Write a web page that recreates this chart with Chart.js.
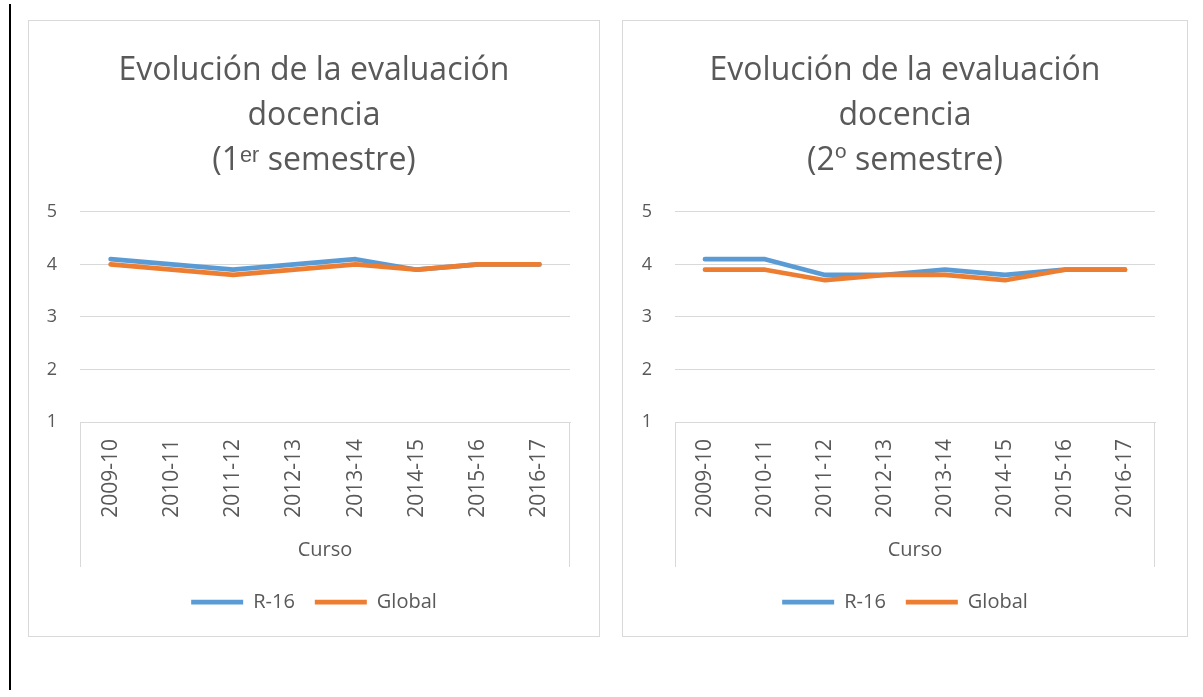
<!DOCTYPE html>
<html>
<head>
<meta charset="utf-8">
<script src="https://cdn.jsdelivr.net/npm/chart.js@4.4.1/dist/chart.umd.min.js"></script>
<style>
  html, body { margin: 0; padding: 0; background: #ffffff; }
  body { width: 1203px; height: 697px; position: relative; overflow: hidden; }
  .vline { position: absolute; left: 9px; top: 4px; width: 2px; height: 686px; background: #000; }
  .box { position: absolute; top: 20px; height: 617px; border: 1px solid #D9D9D9; box-sizing: border-box; }
  #box1 { left: 28px; width: 572px; }
  #box2 { left: 622px; width: 566px; }
  .box canvas { display: block; }
</style>
</head>
<body>
<div class="vline"></div>
<div class="box" id="box1"><canvas id="c1"></canvas></div>
<div class="box" id="box2"><canvas id="c2"></canvas></div>
<script>
// ---- data ----
const cursos = ['2009-10', '2010-11', '2011-12', '2012-13', '2013-14', '2014-15', '2015-16', '2016-17'];
const r16Sem1 = [4.1, 4.0, 3.9, 4.0, 4.1, 3.9, 4.0, 4.0];
const globalSem1 = [4.0, 3.9, 3.8, 3.9, 4.0, 3.9, 4.0, 4.0];
const r16Sem2 = [4.1, 4.1, 3.8, 3.8, 3.9, 3.8, 3.9, 3.9];
const globalSem2 = [3.9, 3.9, 3.7, 3.8, 3.8, 3.7, 3.9, 3.9];
const seriesNames = ['R-16', 'Global'];
const title1 = ['Evolución de la evaluación', 'docencia', '(1ᵉʳ semestre)'];
const title2 = ['Evolución de la evaluación', 'docencia', '(2º semestre)'];
const axisTitleX = 'Curso';
const yMin = 1, yMax = 5, yStep = 1;

const FONT = "'Open Sans', 'Liberation Sans', sans-serif";
const TEXT = '#595959';
const GRID = '#D9D9D9';
const BLUE = '#5B9BD5';
const ORANGE = '#ED7D31';
const SEP_LEN = 145; // length of the category block separators below the axis

// draws the multi-level category separators (left/right edges of the x axis block)
const separatorPlugin = {
  id: 'separators',
  afterDraw(chart) {
    const x = chart.scales.x;
    const ctx = chart.ctx;
    ctx.save();
    ctx.strokeStyle = GRID;
    ctx.lineWidth = 1;
    ctx.beginPath();
    const l = Math.round(x.left) + 0.5, r = Math.round(x.right) - 0.5;
    ctx.moveTo(l, x.top); ctx.lineTo(l, x.top + SEP_LEN);
    ctx.moveTo(r, x.top); ctx.lineTo(r, x.top + SEP_LEN);
    ctx.stroke();
    ctx.restore();
  }
};

function makeChart(id, w, h, r16, glob, titleLines, yWidth, rightPad) {
  const cv = document.getElementById(id);
  cv.width = w; cv.height = h;
  cv.style.width = w + 'px'; cv.style.height = h + 'px';
  return new Chart(cv, {
    type: 'line',
    data: {
      labels: cursos,
      datasets: [
        { label: seriesNames[0], data: r16, borderColor: BLUE, backgroundColor: BLUE, borderWidth: 4.75,
          borderCapStyle: 'round', borderJoinStyle: 'round', order: 1 },
        { label: seriesNames[1], data: glob, borderColor: ORANGE, backgroundColor: ORANGE, borderWidth: 4.75,
          borderCapStyle: 'round', borderJoinStyle: 'round', order: 0 }
      ]
    },
    options: {
      responsive: false,
      animation: false,
      devicePixelRatio: 1,
      elements: {
        line: { tension: 0, fill: false },
        point: { radius: 0, hoverRadius: 0 }
      },
      layout: { padding: { top: 0, left: 0, right: 0, bottom: 14 } },
      plugins: {
        title: {
          display: true,
          text: titleLines,
          color: TEXT,
          font: { family: FONT, size: 32, weight: 'normal', lineHeight: 1.406 },
          padding: { top: 27, bottom: 29 }
        },
        legend: {
          display: true,
          position: 'bottom',
          labels: {
            usePointStyle: true,
            pointStyle: 'line',
            pointStyleWidth: 52,
            color: TEXT,
            font: { family: FONT, size: 20 },
            padding: 20,
            sort: (a, b) => a.datasetIndex - b.datasetIndex
          }
        },
        tooltip: { enabled: false }
      },
      scales: {
        x: {
          offset: true,
          grid: { display: false, drawTicks: false },
          border: { display: true, color: GRID, width: 1 },
          ticks: { color: TEXT, font: { family: FONT, size: 21 }, minRotation: 90, maxRotation: 90, padding: 17, autoSkip: false },
          title: { display: true, text: axisTitleX, color: TEXT, font: { family: FONT, size: 20 }, padding: { top: 0, bottom: 10 } },
          afterFit(scale) { scale.height = 150; }
        },
        y: {
          min: yMin, max: yMax,
          grid: { color: GRID, lineWidth: 1, drawTicks: false },
          border: { display: false },
          ticks: { stepSize: yStep, color: TEXT, font: { family: FONT, size: 18 }, padding: 23 },
          afterFit(scale) { scale.width = yWidth; }
        },
        // empty right-hand spacer so title and legend stay centred on the whole box
        spacer: {
          type: 'linear',
          position: 'right',
          display: true,
          grid: { display: false, drawTicks: false },
          border: { display: false },
          ticks: { display: false },
          afterFit(scale) { scale.width = rightPad; }
        }
      }
    },
    plugins: [separatorPlugin]
  });
}

makeChart('c1', 570, 615, r16Sem1, globalSem1, title1, 51, 29);
makeChart('c2', 564, 615, r16Sem2, globalSem2, title2, 52, 32);
</script>
</body>
</html>
